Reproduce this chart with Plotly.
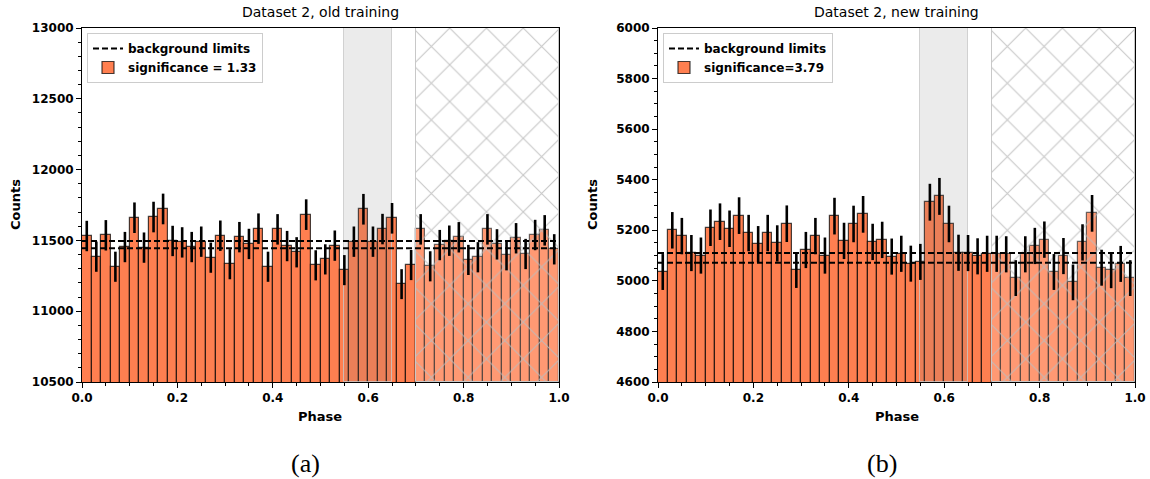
import numpy as np
import plotly.graph_objects as go

# ---------------- data ----------------
n_bins = 50
bin_width = 0.02
phase = [round(0.01 + bin_width * k, 3) for k in range(n_bins)]

counts_old = [11531, 11385, 11536, 11314, 11453, 11660, 11449, 11665, 11722, 11496,
              11486, 11453, 11491, 11378, 11533, 11332, 11523, 11475, 11583, 11314,
              11578, 11460, 11416, 11682, 11324, 11366, 11463, 11290, 11491, 11720,
              11491, 11580, 11656, 11191, 11326, 11578, 11317, 11467, 11498, 11522,
              11362, 11381, 11578, 11472, 11395, 11515, 11404, 11538, 11571, 11437]

counts_new = [5035, 5200, 5177, 5110, 5100, 5210, 5234, 5206, 5258, 5189,
              5145, 5189, 5148, 5226, 5043, 5122, 5177, 5100, 5256, 5158,
              5225, 5263, 5154, 5162, 5096, 5107, 5068, 5075, 5311, 5334,
              5225, 5111, 5110, 5097, 5107, 5107, 5105, 5011, 5105, 5138,
              5163, 5035, 5098, 4994, 5152, 5267, 5052, 5042, 5067, 5011]

bg_limits_old = [11495, 11445]
bg_limits_new = [5110, 5072]

signif_old = "significance = 1.33"
signif_new = "significance=3.79"

titles = ["Dataset 2, old training", "Dataset 2, new training"]
sub_labels = ["(a)", "(b)"]

on_region = (0.55, 0.65)      # grey shaded band
off_region = (0.70, 1.00)     # hatched band

yrange_old = [10500, 13000]
yrange_new = [4600, 6000]

# ---------------- figure ----------------
W, H = 1150, 479
CORAL = "#FF7F50"
FONT = "DejaVu Sans"

def px_x(p):
    return p / W

def px_y(p):
    return 1 - p / H

dom_left = [px_x(82), px_x(559)]
dom_right = [px_x(658), px_x(1135)]
dom_y = [px_y(382), px_y(28)]

fig = go.Figure()

panels = [
    ("x", "y", counts_old, bg_limits_old, signif_old, yrange_old, "legend"),
    ("x2", "y2", counts_new, bg_limits_new, signif_new, yrange_new, "legend2"),
]

for xa, ya, counts, lims, sig, yr, leg in panels:
    counts = np.array(counts, dtype=float)
    err = np.sqrt(counts)
    fig.add_trace(go.Bar(
        x=phase, y=counts, width=bin_width, xaxis=xa, yaxis=ya,
        marker=dict(color=CORAL, line=dict(color="rgba(0,0,0,0.72)", width=1.2)),
        name=sig, legend=leg, legendrank=2, hoverinfo="skip",
    ))
    fig.add_trace(go.Bar(
        x=[(on_region[0] + on_region[1]) / 2], y=[yr[1] - yr[0]], base=[yr[0]],
        width=on_region[1] - on_region[0], xaxis=xa, yaxis=ya,
        marker=dict(color="rgba(128,128,128,0.16)",
                    line=dict(color="rgba(200,200,200,0.8)", width=1)),
        showlegend=False, hoverinfo="skip",
    ))
    fig.add_trace(go.Bar(
        x=[(off_region[0] + off_region[1]) / 2], y=[yr[1] - yr[0]], base=[yr[0]],
        width=off_region[1] - off_region[0], xaxis=xa, yaxis=ya,
        marker=dict(color="rgba(255,255,255,0.2)",
                    line=dict(color="rgba(200,200,200,1)", width=1),
                    pattern=dict(shape="x", fillmode="overlay", fgcolor="#bdbdbd",
                                 fgopacity=0.85, size=26, solidity=0.08)),
        showlegend=False, hoverinfo="skip",
    ))
    fig.add_trace(go.Scatter(
        x=phase, y=counts, mode="markers", xaxis=xa, yaxis=ya,
        marker=dict(size=1, color="rgba(0,0,0,0)"),
        error_y=dict(type="data", array=err, color="black", thickness=2.6, width=0),
        showlegend=False, hoverinfo="skip",
    ))
    fig.add_trace(go.Scatter(
        x=[0, 1, None, 0, 1], y=[lims[0], lims[0], None, lims[1], lims[1]],
        mode="lines", xaxis=xa, yaxis=ya,
        line=dict(color="black", width=2, dash="6px,3px"),
        name="background limits", legend=leg, legendrank=1, hoverinfo="skip",
    ))

axis_common = dict(
    showline=True, linecolor="black", linewidth=1, mirror=True,
    ticks="outside", ticklen=5, tickwidth=1, tickcolor="black",
    showgrid=False, zeroline=False, automargin=False,
    tickfont=dict(family=FONT, size=12, color="black", weight="bold"),
)

legend_common = dict(
    xanchor="left", yanchor="top",
    bgcolor="rgba(255,255,255,0.9)", bordercolor="#cccccc", borderwidth=1,
    font=dict(family=FONT, size=12, color="black", weight="bold"),
    tracegroupgap=0, itemwidth=30,
)

fig.update_layout(
    width=W, height=H, margin=dict(l=0, r=0, t=0, b=0, autoexpand=False),
    paper_bgcolor="white", plot_bgcolor="white",
    barmode="overlay", bargap=0,
    showlegend=True,
    xaxis=dict(domain=dom_left, range=[0, 1], dtick=0.2, tickformat=".1f", anchor="y",
               minor=dict(dtick=0.05, ticks="outside", ticklen=3, tickcolor="black"),
               **axis_common),
    yaxis=dict(domain=dom_y, range=yrange_old, dtick=500, tickformat="d", anchor="x",
               minor=dict(dtick=100, ticks="outside", ticklen=3, tickcolor="black"),
               **axis_common),
    xaxis2=dict(domain=dom_right, range=[0, 1], dtick=0.2, tickformat=".1f", anchor="y2",
                minor=dict(dtick=0.05, ticks="outside", ticklen=3, tickcolor="black"),
                **axis_common),
    yaxis2=dict(domain=dom_y, range=yrange_new, dtick=200, tickformat="d", anchor="x2",
                minor=dict(dtick=50, ticks="outside", ticklen=3, tickcolor="black"),
                **axis_common),
    legend=dict(x=px_x(87), y=px_y(33), **legend_common),
    legend2=dict(x=px_x(663), y=px_y(33), **legend_common),
)

annotations = []
for i, dom in enumerate([dom_left, dom_right]):
    cx = (dom[0] + dom[1]) / 2
    annotations.append(dict(text=titles[i], x=cx, y=px_y(12), xref="paper", yref="paper",
                            showarrow=False, xanchor="center", yanchor="middle",
                            font=dict(family=FONT, size=14, color="black")))
    annotations.append(dict(text="Phase", x=cx, y=px_y(416), xref="paper", yref="paper",
                            showarrow=False, xanchor="center", yanchor="middle",
                            font=dict(family=FONT, size=13, color="black", weight="bold")))
    annotations.append(dict(text=sub_labels[i], x=px_x([305, 882][i]), y=px_y(463),
                            xref="paper", yref="paper", showarrow=False,
                            xanchor="center", yanchor="middle",
                            font=dict(family="Liberation Serif", size=26, color="black")))
for xc in [15, 592]:
    annotations.append(dict(text="Counts", x=px_x(xc), y=px_y(205), xref="paper", yref="paper",
                            showarrow=False, textangle=-90, xanchor="center", yanchor="middle",
                            font=dict(family=FONT, size=13, color="black", weight="bold")))
fig.update_layout(annotations=annotations)

fig.write_html("out.html")
